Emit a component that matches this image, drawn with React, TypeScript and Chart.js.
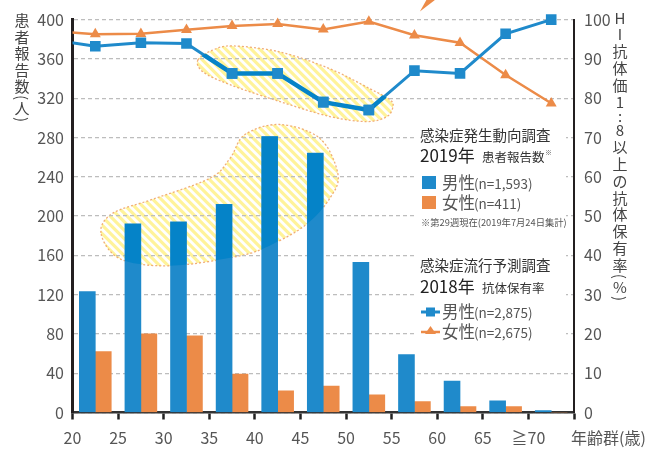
import { useEffect, useRef } from 'react';
import { Chart, registerables } from 'chart.js';

Chart.register(...registerables);

// ---------- data ----------
const ageGroups = ['20', '25', '30', '35', '40', '45', '50', '55', '60', '65', '≧70'];
const maleReports = [123, 192, 194, 212, 281, 264, 153, 59, 32, 12, 2];
const femaleReports = [62, 80, 78, 39, 22, 27, 18, 11, 6, 6, 0];
const maleAntibody = [93.2, 94.1, 93.9, 86.3, 86.3, 79.0, 77.0, 87.0, 86.3, 96.4, 100];
const femaleAntibody = [96.3, 96.4, 97.4, 98.4, 98.9, 97.5, 99.5, 96.0, 94.1, 85.9, 78.7];
// value of the (off-chart) 15–19 group: the lines enter from the left edge
const maleAntibodyLeadIn = 95.0;
const femaleAntibodyLeadIn = 97.1;
const leftTickStep = 40;
const leftMax = 400;
const rightTickStep = 10;
const rightMax = 100;

// decorative hatched outlines, in (age-axis position, patient-count) units
const blobUpper: [number, number][] = [
  [2.752, 359], [3.081, 369.1], [3.52, 373.2], [4.55, 367.1], [5.647, 349.9], [6.524, 329.6],
  [6.961, 318.5], [7.029, 311.4], [6.897, 301.3], [6.458, 296.2], [5.647, 301.3], [4.55, 316.5],
  [3.454, 333.7], [2.862, 346.8],
];
const blobLower: [number, number][] = [
  [0.625, 182.8], [0.888, 203], [1.765, 217.2], [3.015, 238.5], [3.454, 258.7], [3.783, 283],
  [4.55, 293.2], [5.428, 279], [5.823, 242.5], [5.647, 218.2], [5.143, 191.9], [4.397, 171.6],
  [3.673, 159.5], [2.138, 149.4], [1.042, 156.5],
];

// ---------- style ----------
const FONT = "'Noto Sans CJK JP', 'Noto Sans', sans-serif";
const BLUE = '#1f8acb';
const BLUE_DARK = '#0583c8';
const ORANGE = '#ec8b48';
const TICK_COLOR = '#555';
const BAR_SLOT = 0.35; // share of an age group taken by one bar

function smoothClosedPath(ctx: CanvasRenderingContext2D, pts: number[][]) {
  const n = pts.length;
  ctx.beginPath();
  ctx.moveTo(pts[0][0], pts[0][1]);
  for (let i = 0; i < n; i++) {
    const p0 = pts[(i - 1 + n) % n], p1 = pts[i], p2 = pts[(i + 1) % n], p3 = pts[(i + 2) % n];
    ctx.bezierCurveTo(
      p1[0] + (p2[0] - p0[0]) / 6, p1[1] + (p2[1] - p0[1]) / 6,
      p2[0] - (p3[0] - p1[0]) / 6, p2[1] - (p3[1] - p1[1]) / 6,
      p2[0], p2[1]);
  }
  ctx.closePath();
}

function blobPixels(chart: any, outline: [number, number][]) {
  const xs = chart.scales.xl, ys = chart.scales.y;
  return outline.map(([a, b]) => [xs.getPixelForValue(a), ys.getPixelForValue(b)]);
}

function drawBlob(ctx: CanvasRenderingContext2D, pts: number[][]) {
  const xsArr = pts.map(p => p[0]), ysArr = pts.map(p => p[1]);
  const minX = Math.min(...xsArr) - 10, maxX = Math.max(...xsArr) + 10;
  const minY = Math.min(...ysArr) - 10, maxY = Math.max(...ysArr) + 10;
  ctx.save();
  smoothClosedPath(ctx, pts);
  ctx.fillStyle = '#ffffff';
  ctx.fill();
  ctx.clip();
  ctx.strokeStyle = '#fff39a';
  ctx.lineWidth = 3.2;
  const h = maxY - minY;
  for (let k = Math.floor((minX - h) / 8.5) * 8.5; k < maxX; k += 8.5) {
    ctx.beginPath();
    ctx.moveTo(k, minY);
    ctx.lineTo(k + h, maxY);
    ctx.stroke();
  }
  ctx.restore();
  ctx.save();
  smoothClosedPath(ctx, pts);
  ctx.setLineDash([2, 2]);
  ctx.strokeStyle = 'rgba(238,160,100,0.85)';
  ctx.lineWidth = 1.3;
  ctx.stroke();
  ctx.restore();
}

function drawVertical(ctx: CanvasRenderingContext2D, text: string, x: number, y: number, step: number, size: number) {
  ctx.save();
  ctx.font = `${size}px ${FONT}`;
  ctx.fillStyle = '#444';
  ctx.textAlign = 'center';
  ctx.textBaseline = 'middle';
  let cy = y;
  for (const ch of Array.from(text)) {
    const rotated = '()'.includes(ch);
    const adv = rotated ? step * 0.32 : ch === ':' ? step * 0.72 : step;
    const c = cy + adv / 2;
    if (rotated) {
      ctx.save();
      ctx.translate(x, c);
      ctx.rotate(Math.PI / 2);
      ctx.fillText(ch, 0, 0);
      ctx.restore();
    } else {
      ctx.fillText(ch, x, c);
    }
    cy += adv;
  }
  ctx.restore();
}

function txt(ctx: CanvasRenderingContext2D, s: string, x: number, y: number, size: number, color: string) {
  ctx.font = `${size}px ${FONT}`;
  ctx.fillStyle = color;
  ctx.textAlign = 'left';
  ctx.textBaseline = 'middle';
  ctx.fillText(s, x, y);
}

const decorPlugin = {
  id: 'decor',
  beforeDraw(chart: any) {
    const ctx = chart.ctx;
    drawBlob(ctx, blobPixels(chart, blobUpper));
    drawBlob(ctx, blobPixels(chart, blobLower));
  },
  beforeDatasetsDraw(chart: any) {
    const ctx = chart.ctx;
    ctx.save();
    ctx.fillStyle = '#fff';
    ctx.fillRect(417, 123, 149, 107);
    ctx.fillRect(417, 249, 149, 93);
    ctx.restore();
  },
  afterDatasetDraw(chart: any, args: any) {
    const ctx = chart.ctx;
    if (args.index === 0) {
      // bars inside the lower outline appear deeper blue
      ctx.save();
      smoothClosedPath(ctx, blobPixels(chart, blobLower));
      ctx.clip();
      ctx.fillStyle = BLUE_DARK;
      for (const el of args.meta.data) {
        const { x, y, base, width } = el.getProps(['x', 'y', 'base', 'width'], true);
        ctx.fillRect(x - width / 2, y, width, base - y);
      }
      ctx.restore();
    }
    if (args.index === 2) {
      ctx.save();
      smoothClosedPath(ctx, blobPixels(chart, blobUpper));
      ctx.clip();
      ctx.strokeStyle = BLUE_DARK;
      ctx.lineWidth = 4.5;
      ctx.lineJoin = 'round';
      ctx.beginPath();
      args.meta.data.forEach((p: any, i: number) => (i === 0 ? ctx.moveTo(p.x, p.y) : ctx.lineTo(p.x, p.y)));
      ctx.stroke();
      args.meta.data.forEach((p: any) => p.draw(ctx, chart.chartArea));
      ctx.restore();
    }
  },
  afterDraw(chart: any) {
    const ctx = chart.ctx;
    const area = chart.chartArea;
    ctx.save();
    // axis titles
    drawVertical(ctx, '患者報告数(人)', 22, 12.5, 16.5, 15);
    drawVertical(ctx, 'HI抗体価1:8以上の抗体保有率(%)', 620, 9.5, 16.8, 15);
    const xl = chart.scales.xl;
    txt(ctx, '年齢群(歳)', xl.getPixelForValue(ageGroups.length) - 3, 438, 16, TICK_COLOR);

    // legend 1
    txt(ctx, '感染症発生動向調査', 420, 135, 14.5, '#333');
    txt(ctx, '2019年', 420, 156, 17, '#222');
    txt(ctx, '患者報告数', 482, 157, 12.5, '#333');
    txt(ctx, '※', 545, 152, 7, '#555');
    ctx.fillStyle = BLUE;
    ctx.fillRect(422, 176, 14, 13);
    txt(ctx, '男性', 442, 183, 16.5, '#555');
    txt(ctx, '(n=1,593)', 474, 184, 13.5, '#555');
    ctx.fillStyle = ORANGE;
    ctx.fillRect(422, 196, 14, 13);
    txt(ctx, '女性', 442, 202.5, 16.5, '#555');
    txt(ctx, '(n=411)', 474, 203.5, 13.5, '#555');
    txt(ctx, '※第29週現在(2019年7月24日集計)', 421, 222, 9.3, '#555');

    // legend 2
    txt(ctx, '感染症流行予測調査', 420, 265, 14.5, '#333');
    txt(ctx, '2018年', 420, 287, 17, '#222');
    txt(ctx, '抗体保有率', 482, 288, 12.5, '#333');
    ctx.strokeStyle = BLUE;
    ctx.lineWidth = 3;
    ctx.beginPath(); ctx.moveTo(421, 312); ctx.lineTo(440, 312); ctx.stroke();
    ctx.fillStyle = BLUE;
    ctx.fillRect(426, 307.5, 9, 9);
    txt(ctx, '男性', 442, 312, 16.5, '#555');
    txt(ctx, '(n=2,875)', 474, 313, 13.5, '#555');
    ctx.strokeStyle = ORANGE;
    ctx.lineWidth = 2.5;
    ctx.beginPath(); ctx.moveTo(421, 332); ctx.lineTo(440, 332); ctx.stroke();
    ctx.fillStyle = ORANGE;
    ctx.beginPath(); ctx.moveTo(430.5, 326); ctx.lineTo(436, 334); ctx.lineTo(425, 334); ctx.closePath(); ctx.fill();
    txt(ctx, '女性', 442, 331.5, 16.5, '#555');
    txt(ctx, '(n=2,675)', 474, 332.5, 13.5, '#555');

    // arrow tail entering from the top
    const ax = xl.getPixelForValue(7.62);
    ctx.fillStyle = ORANGE;
    ctx.beginPath();
    ctx.moveTo(ax, area.top - 8);
    ctx.lineTo(ax + 6.5, 0);
    ctx.lineTo(ax + 15, 0);
    ctx.closePath();
    ctx.fill();
    ctx.restore();
  },
};

const tickFont = { family: FONT, size: 16 };

export default function App() {
  const ref = useRef<HTMLCanvasElement>(null);
  useEffect(() => {
    document.body.style.margin = '0';
    const toPoints = (lead: number, vals: number[]) =>
      [lead, ...vals].map((v, i) => ({ x: i - 0.5, y: v }));
    const barPoints = (vals: number[], shift: number) =>
      vals.map((v, i) => ({ x: i + 0.5 + shift, y: v }));
    const radii = (vals: number[], r: number) => [0, ...vals.map(() => r)];
    const chart = new Chart(ref.current!, {
      type: 'bar',
      data: {
        datasets: [
          {
            type: 'bar', label: '男性', data: barPoints(maleReports, -BAR_SLOT / 2) as any,
            xAxisID: 'xl', yAxisID: 'y', backgroundColor: BLUE,
            grouped: false, categoryPercentage: 1, barPercentage: 1, order: 2,
          },
          {
            type: 'bar', label: '女性', data: barPoints(femaleReports, BAR_SLOT / 2) as any,
            xAxisID: 'xl', yAxisID: 'y', backgroundColor: ORANGE,
            grouped: false, categoryPercentage: 1, barPercentage: 1, order: 2,
          },
          {
            type: 'line', label: '男性', data: toPoints(maleAntibodyLeadIn, maleAntibody) as any,
            xAxisID: 'xl', yAxisID: 'y2', borderColor: BLUE, borderWidth: 3,
            pointStyle: 'rect', pointRadius: radii(maleAntibody, 7.5), pointBackgroundColor: BLUE,
            pointBorderWidth: 0, tension: 0, clip: { left: 0, top: 12, right: 12, bottom: 0 } as any, order: 0,
          },
          {
            type: 'line', label: '女性', data: toPoints(femaleAntibodyLeadIn, femaleAntibody) as any,
            xAxisID: 'xl', yAxisID: 'y2', borderColor: ORANGE, borderWidth: 2.5,
            pointStyle: 'triangle', pointRadius: radii(femaleAntibody, 6.3), pointBackgroundColor: ORANGE,
            pointBorderWidth: 0, tension: 0, clip: { left: 0, top: 12, right: 12, bottom: 0 } as any, order: 1,
          },
        ],
      },
      options: {
        responsive: false,
        animation: false,
        events: [],
        layout: { padding: { top: 17.5, left: 0, right: 0, bottom: 0 } },
        plugins: { legend: { display: false }, tooltip: { enabled: false } },
        scales: {
          xl: {
            type: 'linear', position: 'bottom', min: 0, max: ageGroups.length, offset: false,
            ticks: {
              stepSize: 1, autoSkip: false, maxRotation: 0, padding: 9,
              font: tickFont, color: TICK_COLOR,
              callback: (v: any) => ageGroups[v] ?? '',
            },
            grid: { offset: false, drawOnChartArea: false, drawTicks: true, tickLength: 7, tickWidth: 2.5, tickColor: '#222' },
            border: { display: true, color: '#333', width: 2.5 },
            afterFit: (s: any) => { s.height = 37.5; },
          },
          y: {
            position: 'left', min: 0, max: leftMax,
            ticks: { stepSize: leftTickStep, padding: 8.5, font: tickFont, color: TICK_COLOR },
            grid: { color: '#bdbdbd', lineWidth: 1.3, drawTicks: false },
            border: { display: true, color: '#231f20', width: 3, dash: [4, 3] },
            afterFit: (s: any) => { s.width = 72.5; },
          },
          y2: {
            position: 'right', min: 0, max: rightMax,
            ticks: { stepSize: rightTickStep, padding: 10, font: tickFont, color: TICK_COLOR },
            grid: { display: false, drawTicks: false },
            border: { display: true, color: '#231f20', width: 2 },
            afterFit: (s: any) => { s.width = 72; },
          },
        },
      } as any,
      plugins: [decorPlugin],
    } as any);
    return () => chart.destroy();
  }, []);
  return (
    <div style={{ width: 646, height: 450 }}>
      <canvas ref={ref} width={646} height={450} style={{ display: 'block' }} />
    </div>
  );
}
